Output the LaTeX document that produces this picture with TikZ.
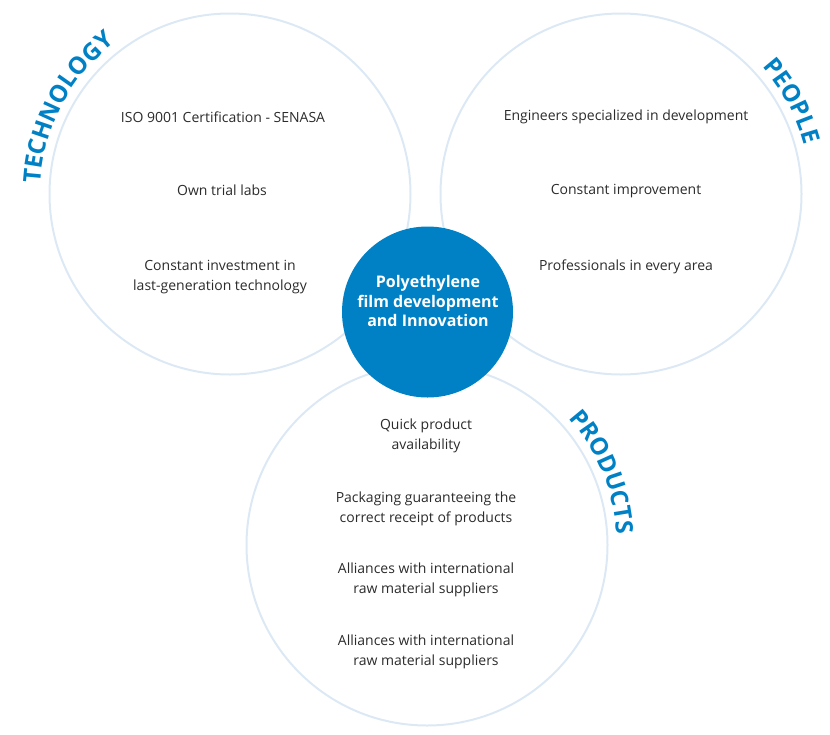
\documentclass[tikz,border=0pt]{standalone}
\usepackage{fontspec}
\setmainfont{Open Sans}
\usetikzlibrary{decorations.text}
\definecolor{brandblue}{HTML}{0081C6}
\definecolor{ringcol}{HTML}{DCE9F5}
\definecolor{txtcol}{HTML}{2B2B2B}
\newcommand{\lblfont}{\fontsize{24}{24}\selectfont\bfseries\color{brandblue}}
\begin{document}
\begin{tikzpicture}[x=1pt,y=1pt,
  ring/.style={circle,draw=ringcol,line width=2pt,minimum size=361pt,inner sep=0pt},
  item/.style={align=center,font=\fontsize{14}{20}\selectfont,text=txtcol,inner sep=0pt},
  hub/.style={circle,fill=brandblue,minimum size=171pt,inner sep=0pt},
  hubtext/.style={align=center,text=white,font=\fontsize{16}{19.5}\selectfont\bfseries,inner sep=0pt},
  curved/.style={decorate,decoration={text along path,text align=center,text={|\lblfont|#1}}}]
\useasboundingbox (0,0) rectangle (830,-734);
\node[ring] (L) at (230,-194) {};
\node[ring] (R) at (621,-194) {};
\node[ring] (B) at (427,-545) {};
\node[hub] (C) at (427.5,-312) {};
\node[hubtext] (Ct) at (428,-301) {Polyethylene\\film development\\and Innovation};
% curved labels
\path[curved=TECHNOLOGY] (L.center) ++(185:190) arc[start angle=185,end angle=119,radius=190];
\path[curved=PEOPLE] (R.center) ++(60:190) arc[start angle=60,end angle=-3,radius=190];
\path[curved=PRODUCTS] (B.center) ++(60:190) arc[start angle=60,end angle=-15,radius=190];
% items
\node[item] (l1) at (223,-117) {ISO 9001 Certification - SENASA};
\node[item] (l2) at (222,-190) {Own trial labs};
\node[item] (l3) at (220,-277) {Constant investment in\\last-generation technology};
\node[item] (r1) at (626,-117) {Engineers specialized in development};
\node[item] (r2) at (626,-191) {Constant improvement};
\node[item] (r3) at (626,-267) {Professionals in every area};
\node[item] (b1) at (426,-435.5) {Quick product\\availability};
\node[item] (b2) at (426,-508.5) {Packaging guaranteeing the\\correct receipt of products};
\node[item] (b3) at (426,-580) {Alliances with international\\raw material suppliers};
\node[item] (b4) at (426,-652) {Alliances with international\\raw material suppliers};
\end{tikzpicture}
\end{document}
